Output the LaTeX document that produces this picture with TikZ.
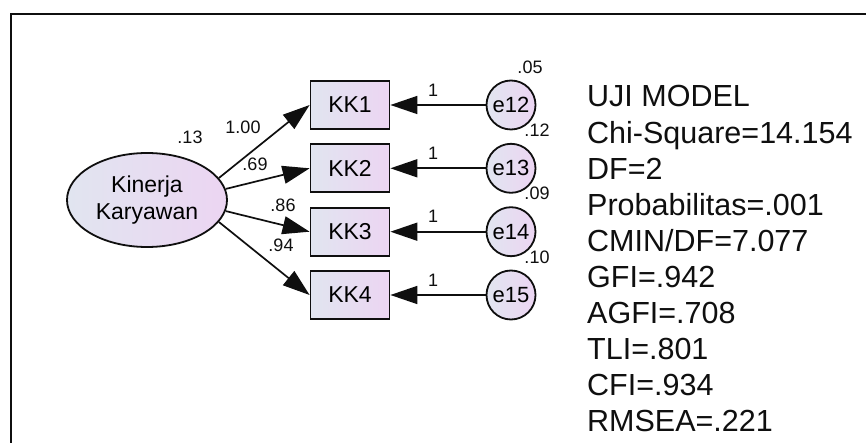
\documentclass[tikz,border=0pt]{standalone}
\usepackage{fontspec}
\setmainfont{Liberation Sans}
\usetikzlibrary{arrows.meta,shapes.geometric}
\definecolor{fillL}{RGB}{225,229,240}
\definecolor{fillR}{RGB}{236,213,242}
\definecolor{ink}{RGB}{15,15,15}
\begin{document}
\begin{tikzpicture}[x=1pt,y=-1pt,
  shadedfill/.style={left color=fillL,right color=fillR,draw=ink,line width=1.8pt},
  box/.style={shadedfill,rectangle,minimum width=79pt,minimum height=48pt,inner sep=0pt,font=\fontsize{23}{26}\selectfont},
  errc/.style={shadedfill,circle,minimum size=49pt,inner sep=0pt,font=\fontsize{22}{26}\selectfont},
  lat/.style={shadedfill,ellipse,minimum width=160pt,minimum height=94pt,inner sep=0pt,align=center,font=\fontsize{23}{27}\selectfont},
  conn/.style={draw=ink,line width=1.7pt,-{Triangle[length=27pt,width=18pt]}},
  lbl/.style={text=ink,font=\fontsize{18}{20}\selectfont,inner sep=0pt},
  stat/.style={text=ink,font=\fontsize{30.5}{34}\selectfont,anchor=base west,inner sep=0pt}]
\useasboundingbox (0,0) rectangle (866,443);
\fill[white] (0,0) rectangle (866,443);
\draw[ink,line width=1.8pt] (870,14) -- (11,14) -- (11,450);

\node[lat] (kin) at (147,200) {Kinerja\\Karyawan};
\node[box] (kk1) at (350,105) {KK1};
\node[box] (kk2) at (350,168.3) {KK2};
\node[box] (kk3) at (350,231.7) {KK3};
\node[box] (kk4) at (350,295) {KK4};
\node[errc] (e12) at (511,105) {e12};
\node[errc] (e13) at (511,168.3) {e13};
\node[errc] (e14) at (511,231.7) {e14};
\node[errc] (e15) at (511,295) {e15};

\draw[conn] (kin.17) -- (kk1.west);
\draw[conn] (kin.8) -- (kk2.west);
\draw[conn] (kin.-8) -- (kk3.west);
\draw[conn] (kin.-17) -- (kk4.west);
\draw[conn] (e12) -- (kk1);
\draw[conn] (e13) -- (kk2);
\draw[conn] (e14) -- (kk3);
\draw[conn] (e15) -- (kk4);

\node[lbl] (v13) at (190,137) {.13};
\node[lbl] (p1) at (243,127) {1.00};
\node[lbl] (p2) at (255,164) {.69};
\node[lbl] (p3) at (283,205) {.86};
\node[lbl] (p4) at (281,245) {.94};
\node[lbl] (w1) at (433,90) {1};
\node[lbl] (w2) at (433,153.3) {1};
\node[lbl] (w3) at (433,216.7) {1};
\node[lbl] (w4) at (433,280) {1};
\node[lbl] (v05) at (530,67) {.05};
\node[lbl] (v12) at (537,130) {.12};
\node[lbl] (v09) at (537,193) {.09};
\node[lbl] (v10) at (537,257) {.10};

\foreach \t [count=\i from 0] in {UJI MODEL,Chi-Square=14.154,DF=2,Probabilitas=.001,CMIN/DF=7.077,GFI=.942,AGFI=.708,TLI=.801,CFI=.934,RMSEA=.221}
  \node[stat] (s\i) at (587,107+36.1*\i) {\t};
\end{tikzpicture}
\end{document}
